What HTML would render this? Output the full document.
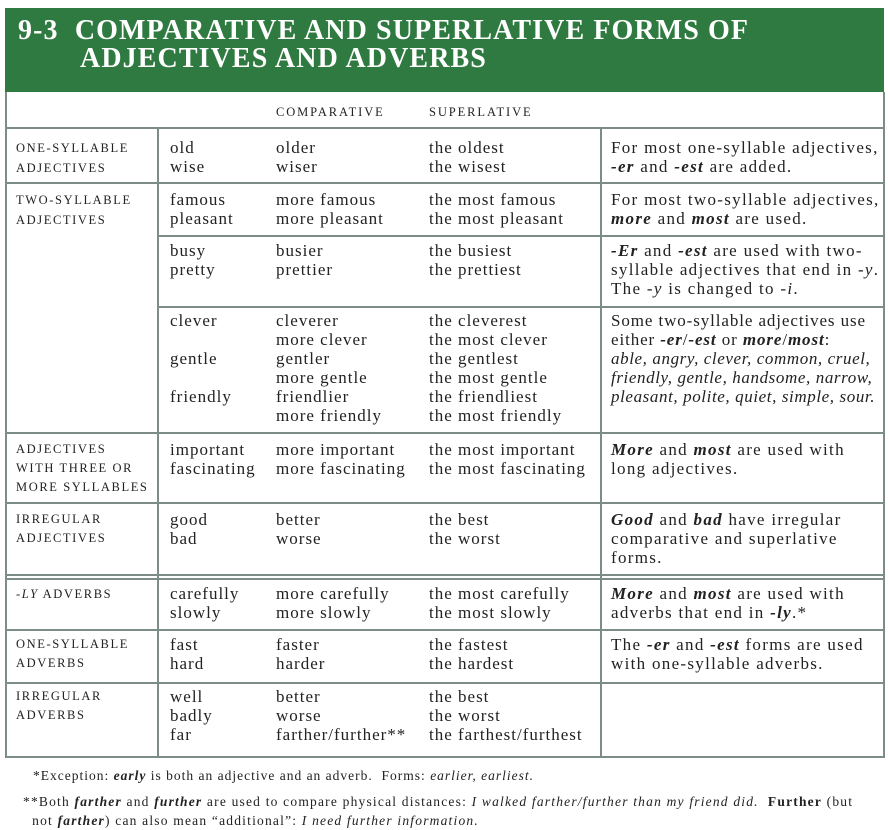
<!DOCTYPE html>
<html><head><style>
body{margin:0;background:#fff;width:888px;height:830px;position:relative;overflow:hidden;font-family:"Liberation Serif",serif;color:#222}
.t{position:absolute;white-space:nowrap;line-height:20px;font-size:17px;letter-spacing:1px}
.n{letter-spacing:1.3px}
.s{font-size:12.5px;letter-spacing:1.6px}
.h{position:absolute;height:1.5px;background:#7c8c88}
.v{position:absolute;width:1.5px;background:#7c8c88}
i b,b i{font-style:italic;font-weight:bold}
</style></head><body>
<div style="position:absolute;left:5px;top:8px;width:879px;height:84px;background:#2f7a40"></div>
<div class="t" style="left:18px;top:17px;color:#fff;font-size:28px;font-weight:bold;line-height:28px;letter-spacing:1.1px">9-3&nbsp; COMPARATIVE AND SUPERLATIVE FORMS OF<br><span style="padding-left:62px">ADJECTIVES AND ADVERBS</span></div>
<div class="v" style="left:5px;top:92px;height:666px"></div>
<div class="v" style="left:883px;top:92px;height:666px"></div>
<div class="v" style="left:157px;top:128px;height:630px"></div>
<div class="v" style="left:600px;top:128px;height:630px"></div>
<div class="h" style="left:5px;top:127px;width:880px"></div>
<div class="h" style="left:5px;top:182px;width:880px"></div>
<div class="h" style="left:157px;top:235px;width:728px"></div>
<div class="h" style="left:157px;top:306px;width:728px"></div>
<div class="h" style="left:5px;top:432px;width:880px"></div>
<div class="h" style="left:5px;top:502px;width:880px"></div>
<div class="h" style="left:5px;top:574px;width:880px"></div>
<div class="h" style="left:5px;top:578px;width:880px"></div>
<div class="h" style="left:5px;top:629px;width:880px"></div>
<div class="h" style="left:5px;top:682px;width:880px"></div>
<div class="h" style="left:5px;top:756px;width:880px"></div>

<div class="t s" style="left:276px;top:102px;letter-spacing:1.9px">COMPARATIVE</div>
<div class="t s" style="left:429px;top:102px;letter-spacing:1.9px">SUPERLATIVE</div>

<div class="t s" style="left:16px;top:138px">ONE-SYLLABLE<br>ADJECTIVES</div>
<div class="t" style="left:170px;top:138px;line-height:19px">old<br>wise</div>
<div class="t" style="left:276px;top:138px;line-height:19px">older<br>wiser</div>
<div class="t" style="left:429px;top:138px;line-height:19px">the oldest<br>the wisest</div>
<div class="t n" style="left:611px;top:138px;line-height:19px">For most one-syllable adjectives,<br><i><b>-er</b></i> and <i><b>-est</b></i> are added.</div>

<div class="t s" style="left:16px;top:190px">TWO-SYLLABLE<br>ADJECTIVES</div>
<div class="t" style="left:170px;top:190px;line-height:19px">famous<br>pleasant</div>
<div class="t" style="left:276px;top:190px;line-height:19px">more famous<br>more pleasant</div>
<div class="t" style="left:429px;top:190px;line-height:19px">the most famous<br>the most pleasant</div>
<div class="t n" style="left:611px;top:190px;line-height:19px">For most two-syllable adjectives,<br><i><b>more</b></i> and <i><b>most</b></i> are used.</div>

<div class="t" style="left:170px;top:241px;line-height:19px">busy<br>pretty</div>
<div class="t" style="left:276px;top:241px;line-height:19px">busier<br>prettier</div>
<div class="t" style="left:429px;top:241px;line-height:19px">the busiest<br>the prettiest</div>
<div class="t n" style="left:611px;top:241px;line-height:19px"><i><b>-Er</b></i> and <i><b>-est</b></i> are used with two-<br>syllable adjectives that end in <i>-y</i>.<br>The <i>-y</i> is changed to <i>-i</i>.</div>

<div class="t" style="left:170px;top:312px;line-height:18.9px">clever<br><br>gentle<br><br>friendly</div>
<div class="t" style="left:276px;top:312px;line-height:18.9px">cleverer<br>more clever<br>gentler<br>more gentle<br>friendlier<br>more friendly</div>
<div class="t" style="left:429px;top:312px;line-height:18.9px">the cleverest<br>the most clever<br>the gentlest<br>the most gentle<br>the friendliest<br>the most friendly</div>
<div class="t n" style="left:611px;top:312px;line-height:18.9px;letter-spacing:0.9px">Some two-syllable adjectives use<br>either <i><b>-er</b></i>/<i><b>-est</b></i> or <i><b>more</b></i>/<i><b>most</b></i>:<br><i style="letter-spacing:0.6px">able, angry, clever, common, cruel,<br>friendly, gentle, handsome, narrow,<br>pleasant, polite, quiet, simple, sour.</i></div>

<div class="t s" style="left:16px;top:440px;line-height:19px">ADJECTIVES<br>WITH THREE OR<br>MORE SYLLABLES</div>
<div class="t" style="left:170px;top:440px;line-height:19px">important<br>fascinating</div>
<div class="t" style="left:276px;top:440px;line-height:19px">more important<br>more fascinating</div>
<div class="t" style="left:429px;top:440px;line-height:19px">the most important<br>the most fascinating</div>
<div class="t n" style="left:611px;top:440px;line-height:19px"><i><b>More</b></i> and <i><b>most</b></i> are used with<br>long adjectives.</div>

<div class="t s" style="left:16px;top:510px;line-height:19px">IRREGULAR<br>ADJECTIVES</div>
<div class="t" style="left:170px;top:510px;line-height:19px">good<br>bad</div>
<div class="t" style="left:276px;top:510px;line-height:19px">better<br>worse</div>
<div class="t" style="left:429px;top:510px;line-height:19px">the best<br>the worst</div>
<div class="t n" style="left:611px;top:510px;line-height:19px"><i><b>Good</b></i> and <i><b>bad</b></i> have irregular<br>comparative and superlative<br>forms.</div>

<div class="t s" style="left:16px;top:584px"><i>-LY</i> ADVERBS</div>
<div class="t" style="left:170px;top:584px;line-height:19px">carefully<br>slowly</div>
<div class="t" style="left:276px;top:584px;line-height:19px">more carefully<br>more slowly</div>
<div class="t" style="left:429px;top:584px;line-height:19px">the most carefully<br>the most slowly</div>
<div class="t n" style="left:611px;top:584px;line-height:19px"><i><b>More</b></i> and <i><b>most</b></i> are used with<br>adverbs that end in <i><b>-ly</b></i>.*</div>

<div class="t s" style="left:16px;top:635px;line-height:19px">ONE-SYLLABLE<br>ADVERBS</div>
<div class="t" style="left:170px;top:635px;line-height:19px">fast<br>hard</div>
<div class="t" style="left:276px;top:635px;line-height:19px">faster<br>harder</div>
<div class="t" style="left:429px;top:635px;line-height:19px">the fastest<br>the hardest</div>
<div class="t n" style="left:611px;top:635px;line-height:19px">The <i><b>-er</b></i> and <i><b>-est</b></i> forms are used<br>with one-syllable adverbs.</div>

<div class="t s" style="left:16px;top:687px;line-height:19px">IRREGULAR<br>ADVERBS</div>
<div class="t" style="left:170px;top:687px;line-height:19px">well<br>badly<br>far</div>
<div class="t" style="left:276px;top:687px;line-height:19px">better<br>worse<br>farther/further**</div>
<div class="t" style="left:429px;top:687px;line-height:19px">the best<br>the worst<br>the farthest/furthest</div>

<div class="t" style="left:33px;top:766px;font-size:13.5px;letter-spacing:1.0px">*Exception: <i><b>early</b></i> is both an adjective and an adverb.&nbsp; Forms: <i>earlier, earliest.</i></div>
<div class="t" style="left:23px;top:792px;font-size:13.5px;line-height:19px;letter-spacing:1.2px">**Both <i><b>farther</b></i> and <i><b>further</b></i> are used to compare physical distances: <i>I walked farther/further than my friend did.</i>&nbsp; <b>Further</b> (but<br>&nbsp;&nbsp;not <i><b>farther</b></i>) can also mean “additional”: <i>I need further information.</i></div>
</body></html>
